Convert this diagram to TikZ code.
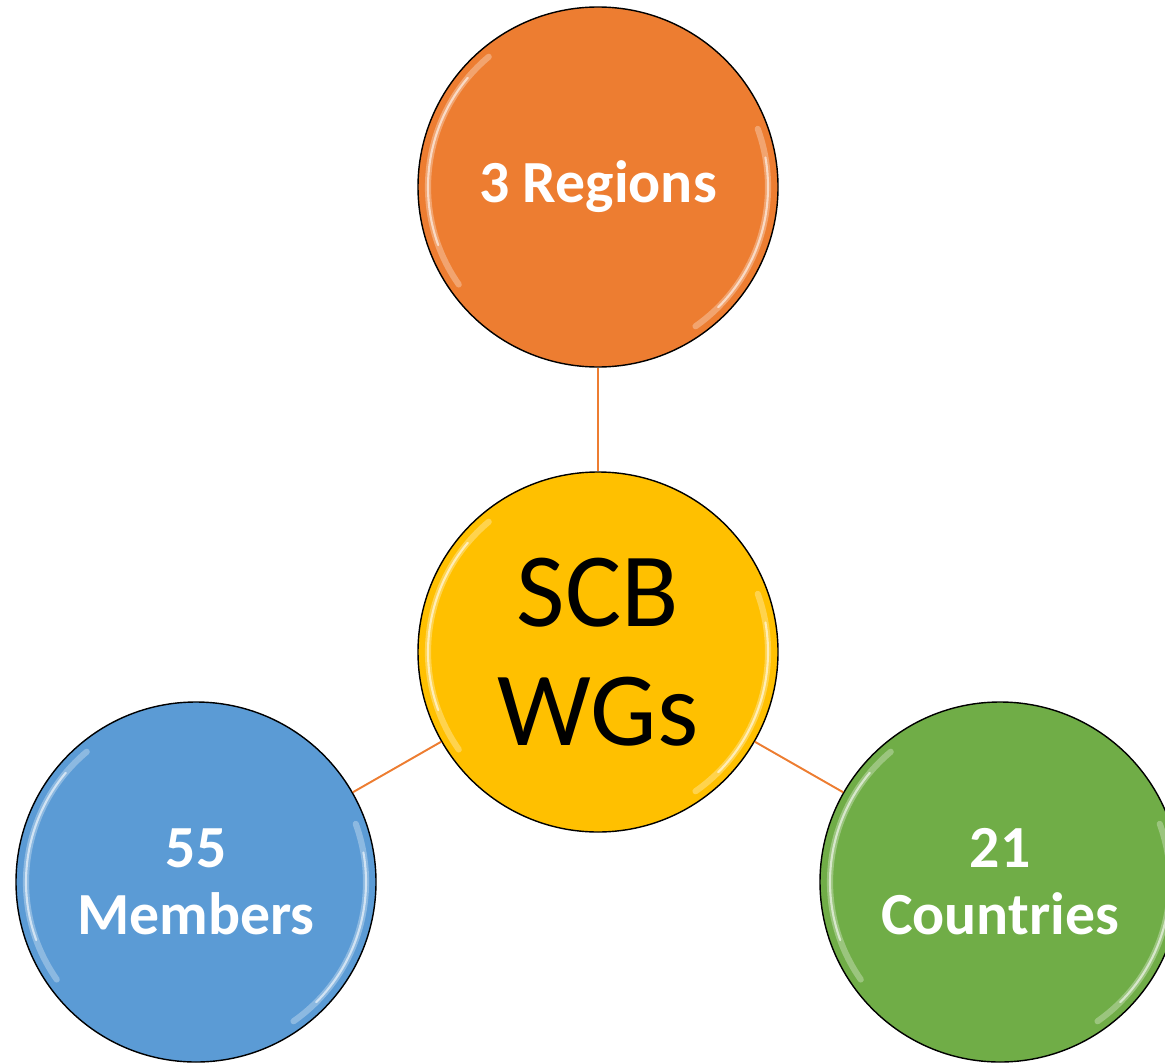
\documentclass[tikz,border=0pt]{standalone}
\usepackage{fontspec}
\setmainfont{Carlito}
\usetikzlibrary{calc}

\definecolor{wgorange}{HTML}{ED7D31}
\definecolor{wgyellow}{HTML}{FFC000}
\definecolor{wgblue}{HTML}{5B9BD5}
\definecolor{wggreen}{HTML}{70AD47}

\begin{document}
\begin{tikzpicture}[
  bubble/.style={circle, draw=black, line width=0.8pt, minimum size=7.2cm, inner sep=0pt, align=center},
  outer/.style={bubble, text=white, font=\fontsize{34}{38}\selectfont\bfseries},
  hub/.style={bubble, fill=wgyellow, text=black, font=\fontsize{60}{68}\selectfont},
  link/.style={wgorange, line width=1.1pt},
  gloss/.style={white, opacity=0.3, line width=3.5pt, line cap=round},
  shine/.style={white, opacity=0.6, line width=1.2pt, line cap=round}
  ]
    % page frame
    \useasboundingbox (0,0) rectangle (23.3,-21.28);
    \clip (0,0) rectangle (23.3,-21.28);

    % bubbles
    \node[outer, fill=wgorange] (regions) at (11.96,-3.74) {3 Regions};
    \node[hub] (wgs) at (11.96,-13.04) {SCB\\WGs};
    \node[outer, fill=wgblue] (members) at (3.92,-17.64) {55\\Members};
    \node[outer, fill=wggreen] (countries) at (20,-17.64) {21\\Countries};

    % links to the hub
    \draw[link] (wgs) -- (regions);
    \draw[link] (wgs) -- (members);
    \draw[link] (wgs) -- (countries);

    % glossy rims
    \foreach \n in {regions, wgs, members, countries}{
      \draw[gloss] ($(\n)+(130:3.4)$) arc[start angle=130, end angle=215, radius=3.4];
      \draw[shine] ($(\n)+(140:3.4)$) arc[start angle=140, end angle=200, radius=3.4];
      \draw[gloss] ($(\n)+(-55:3.4)$) arc[start angle=-55, end angle=20, radius=3.4];
      \draw[shine] ($(\n)+(-45:3.4)$) arc[start angle=-45, end angle=10, radius=3.4];
    }

\end{tikzpicture}
\end{document}
